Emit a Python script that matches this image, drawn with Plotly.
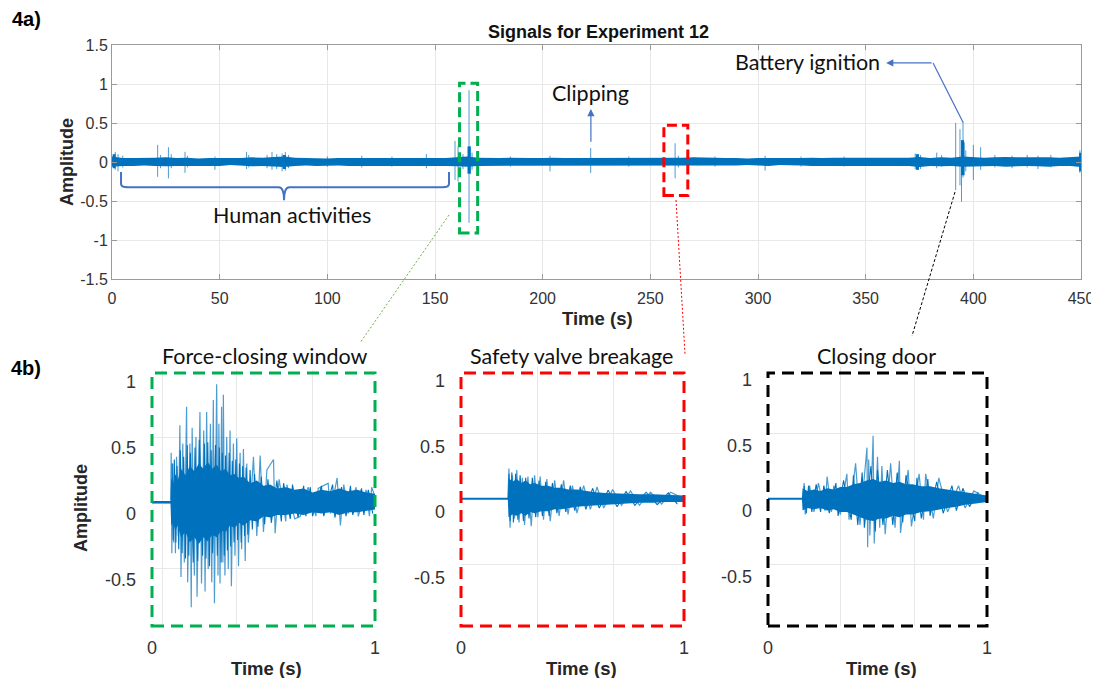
import plotly.graph_objects as go

W, H = 1099, 678
OFF = 8  # page body margin of the viewer; figure is laid out in window pixels
FW, FH = W - OFF, H - OFF

# ---------------- Top panel: Signals for Experiment 12 ----------------
x_ticks = [0, 50, 100, 150, 200, 250, 300, 350, 400, 450]
y_ticks = [-1.5, -1, -0.5, 0, 0.5, 1, 1.5]
y_ticklabels = ["-1.5", "-1", "-0.5", "0", "0.5", "1", "1.5"]

# background noise band (upper / lower envelope) read every 5 s
band_t = [0, 5, 10, 15, 20, 25, 30, 35, 40, 45, 50, 55, 60, 65, 70, 75, 80, 85, 90, 95,
          100, 105, 110, 115, 120, 125, 130, 135, 140, 145, 150, 155, 160, 165, 170, 175,
          180, 185, 190, 195, 200, 205, 210, 215, 220, 225, 230, 235, 240, 245, 250, 255,
          260, 265, 270, 275, 280, 285, 290, 295, 300, 305, 310, 315, 320, 325, 330, 335,
          340, 345, 350, 355, 360, 365, 370, 375, 380, 385, 390, 395, 400, 405, 410, 415,
          420, 425, 430, 435, 440, 445, 450]
band_hi = [0.07, 0.05, 0.05, 0.05, 0.055, 0.06, 0.05, 0.055, 0.045, 0.05, 0.05, 0.045, 0.05,
           0.06, 0.055, 0.065, 0.07, 0.055, 0.05, 0.05, 0.045, 0.05, 0.05, 0.055, 0.05, 0.05,
           0.055, 0.05, 0.05, 0.055, 0.05, 0.05, 0.06, 0.07, 0.055, 0.05, 0.05, 0.055, 0.05,
           0.05, 0.05, 0.055, 0.05, 0.05, 0.055, 0.05, 0.05, 0.055, 0.05, 0.05, 0.055, 0.05,
           0.055, 0.055, 0.06, 0.055, 0.05, 0.05, 0.05, 0.045, 0.05, 0.05, 0.045, 0.045, 0.05,
           0.055, 0.05, 0.055, 0.055, 0.05, 0.05, 0.05, 0.05, 0.05, 0.055, 0.065, 0.05, 0.06,
           0.055, 0.07, 0.06, 0.055, 0.06, 0.065, 0.06, 0.06, 0.065, 0.06, 0.055, 0.06, 0.07]
band_lo = [-0.06, -0.05, -0.05, -0.045, -0.05, -0.055, -0.05, -0.05, -0.045, -0.045, -0.05,
           -0.04, -0.05, -0.055, -0.05, -0.06, -0.065, -0.05, -0.045, -0.05, -0.045, -0.045,
           -0.05, -0.05, -0.045, -0.05, -0.05, -0.045, -0.05, -0.05, -0.045, -0.05, -0.055,
           -0.06, -0.05, -0.05, -0.045, -0.05, -0.045, -0.05, -0.05, -0.045, -0.05, -0.045,
           -0.05, -0.05, -0.045, -0.05, -0.05, -0.045, -0.05, -0.05, -0.05, -0.05, -0.05,
           -0.05, -0.045, -0.05, -0.045, -0.04, -0.045, -0.05, -0.04, -0.04, -0.045, -0.05,
           -0.05, -0.05, -0.05, -0.05, -0.045, -0.05, -0.045, -0.05, -0.05, -0.065, -0.05,
           -0.055, -0.05, -0.06, -0.055, -0.05, -0.05, -0.06, -0.055, -0.05, -0.055, -0.06,
           -0.05, -0.05, -0.065]

# transient spikes (time, max, min)
spike_t = [1.5, 2.8, 5, 21.2, 22.5, 26.2, 27.5, 33.9, 35, 47.8, 62.5, 63.5, 72, 74.3, 76.5,
           79, 80.5, 82, 100, 116, 130, 146, 159.3, 160.7, 163, 165.8, 166.5, 167.2, 185,
           203.4, 222.3, 240, 261.5, 263, 280, 303.3, 320, 340, 373, 374.5, 375.5, 383,
           385.3, 391.8, 393.8, 394.5, 395.2, 395.8, 396.5, 400, 403.4, 410, 418, 425, 430,
           436, 449.5]
spike_hi = [0.13, 0.10, 0.08, 0.22, 0.09, 0.19, 0.10, 0.13, 0.08, 0.07, 0.13, 0.09, 0.09,
            0.13, 0.10, 0.11, 0.13, 0.09, 0.07, 0.08, 0.07, 0.10, 0.27, 0.20, 0.10, 0.92,
            0.20, 0.12, 0.07, 0.08, 0.18, 0.07, 0.24, 0.08, 0.07, 0.08, 0.07, 0.07, 0.11,
            0.10, 0.09, 0.12, 0.09, 0.50, 0.42, 0.28, 0.52, 0.25, 0.15, 0.22, 0.19, 0.09,
            0.08, 0.09, 0.08, 0.09, 0.15]
spike_lo = [-0.10, -0.12, -0.07, -0.19, -0.08, -0.21, -0.08, -0.14, -0.07, -0.10, -0.09,
            -0.07, -0.08, -0.10, -0.09, -0.12, -0.11, -0.08, -0.06, -0.07, -0.06, -0.08,
            -0.23, -0.25, -0.09, -0.78, -0.15, -0.10, -0.06, -0.12, -0.14, -0.06, -0.21,
            -0.07, -0.06, -0.11, -0.06, -0.06, -0.09, -0.10, -0.09, -0.08, -0.06, -0.36,
            -0.30, -0.51, -0.20, -0.17, -0.12, -0.23, -0.10, -0.07, -0.08, -0.07, -0.09,
            -0.07, -0.14]

# dense bursts (time, max, min)
burst_t = [1, 80, 165.8, 374, 395, 449.8]
burst_hi = [0.10, 0.09, 0.20, 0.10, 0.28, 0.12]
burst_lo = [-0.08, -0.09, -0.15, -0.10, -0.17, -0.12]

# ---------------- Bottom panels (1 s windows) ----------------
sub_titles = ["Force-closing window", "Safety valve breakage", "Closing door"]
sub_yticks = [-0.5, 0, 0.5, 1]
sub_yticklabels = ["-0.5", "0", "0.5", "1"]

# Force-closing window
fcw_core_t = [0, 0.083, 0.086, 0.095, 0.105, 0.115, 0.13, 0.15, 0.17, 0.19, 0.21, 0.23, 0.25,
              0.27, 0.29, 0.31, 0.33, 0.35, 0.37, 0.39, 0.41, 0.44, 0.47, 0.50, 0.53, 0.56,
              0.60, 0.64, 0.68, 0.72, 0.76, 0.80, 0.84, 0.88, 0.92, 0.96, 1.0]
fcw_core_hi = [0.016, 0.016, 0.19, 0.15, 0.22, 0.17, 0.26, 0.21, 0.28, 0.24, 0.30, 0.26, 0.31,
               0.26, 0.29, 0.24, 0.26, 0.21, 0.22, 0.19, 0.20, 0.15, 0.17, 0.13, 0.14, 0.11,
               0.12, 0.10, 0.11, 0.08, 0.10, 0.09, 0.11, 0.09, 0.10, 0.08, 0.07]
fcw_core_lo = [-0.004, -0.004, -0.17, -0.15, -0.21, -0.17, -0.26, -0.22, -0.30, -0.26, -0.31,
               -0.26, -0.29, -0.24, -0.26, -0.21, -0.22, -0.17, -0.19, -0.15, -0.17, -0.13,
               -0.14, -0.10, -0.11, -0.09, -0.09, -0.08, -0.09, -0.07, -0.08, -0.07, -0.09,
               -0.07, -0.07, -0.06, -0.05]
fcw_mid_t = [0.09, 0.095, 0.1, 0.107, 0.112, 0.12, 0.127, 0.135, 0.142, 0.15, 0.158, 0.165,
             0.172, 0.185, 0.193, 0.205, 0.212, 0.227, 0.235, 0.242, 0.25, 0.258, 0.265, 0.272,
             0.285, 0.293, 0.302, 0.31, 0.315, 0.324, 0.33, 0.338, 0.346, 0.353, 0.36, 0.368,
             0.376, 0.384, 0.392, 0.4, 0.407, 0.415, 0.422, 0.43, 0.44, 0.45, 0.46, 0.475, 0.49,
             0.505, 0.52, 0.535, 0.56, 0.58, 0.59, 0.62, 0.63, 0.655, 0.68, 0.69, 0.71, 0.72,
             0.76, 0.77, 0.81, 0.82, 0.85, 0.87, 0.89, 0.9, 0.94, 0.95, 0.97, 0.99]
fcw_mid_v = [0.3, -0.28, 0.33, -0.3, 0.28, -0.35, 0.4, -0.38, 0.35, -0.42, 0.44, -0.4, 0.38,
             -0.45, 0.42, -0.44, 0.48, -0.4, 0.45, -0.42, 0.46, -0.48, 0.4, -0.38, 0.44, -0.4,
             0.42, -0.45, 0.38, -0.4, 0.36, -0.36, 0.38, -0.33, 0.32, -0.3, 0.33, -0.28, 0.3,
             -0.3, 0.28, -0.25, 0.27, -0.24, 0.25, -0.2, 0.22, -0.18, 0.2, -0.16, 0.18, -0.15,
             0.17, -0.14, 0.15, -0.12, 0.14, -0.11, 0.13, -0.1, 0.12, -0.1, 0.13, -0.1, 0.14,
             -0.11, 0.12, -0.1, 0.13, -0.09, 0.11, -0.09, 0.1, -0.08]
fcw_wave_t = [0.084, 0.086, 0.089, 0.093, 0.097, 0.101, 0.105, 0.110, 0.118, 0.125, 0.130, 0.138,
              0.145, 0.155, 0.160, 0.170, 0.176, 0.180, 0.190, 0.197, 0.202, 0.215, 0.222, 0.232,
              0.238, 0.245, 0.252, 0.262, 0.268, 0.275, 0.280, 0.290, 0.296, 0.300, 0.305, 0.312,
              0.318, 0.320, 0.327, 0.335, 0.342, 0.350, 0.356, 0.365, 0.372, 0.380, 0.388, 0.395,
              0.402, 0.410, 0.418, 0.425, 0.432, 0.455, 0.470, 0.485, 0.500, 0.515, 0.545, 0.552,
              0.570, 0.600, 0.605, 0.640, 0.665, 0.700, 0.735, 0.745, 0.790, 0.800, 0.830, 0.845,
              0.860, 0.880, 0.915, 0.925, 0.960, 0.975, 0.985, 1.0]
fcw_wave_v = [0.02, 0.38, -0.38, 0.30, -0.30, 0.20, -0.38, 0.35, -0.25, 0.59, -0.56, 0.45,
              -0.45, 0.73, -0.60, 0.45, -0.79, 0.57, -0.55, 0.50, -0.71, 0.69, -0.61, 0.55,
              -0.67, 0.69, -0.50, 0.60, -0.60, 0.78, -0.76, 0.90, -0.55, 0.60, -0.61, 0.73,
              -0.45, 0.82, -0.55, 0.50, -0.50, 0.55, -0.63, 0.45, -0.40, 0.49, -0.48, 0.38,
              -0.35, 0.41, -0.44, 0.30, -0.30, 0.35, -0.25, 0.36, -0.22, 0.25, 0.33, -0.23,
              0.18, -0.14, 0.14, -0.12, -0.10, 0.12, -0.10, 0.11, 0.15, -0.08, 0.19, -0.17,
              0.14, -0.08, 0.12, -0.10, 0.10, -0.10, 0.12, 0.05]

# Safety valve breakage
svb_core_t = [0, 0.21, 0.213, 0.23, 0.25, 0.27, 0.29, 0.31, 0.33, 0.36, 0.39, 0.42, 0.45,
              0.48, 0.52, 0.56, 0.60, 0.65, 0.70, 0.75, 0.80, 0.86, 0.92, 1.0]
svb_core_hi = [0.008, 0.008, 0.16, 0.13, 0.15, 0.12, 0.14, 0.11, 0.12, 0.10, 0.10, 0.085, 0.085,
               0.07, 0.07, 0.06, 0.05, 0.045, 0.04, 0.04, 0.035, 0.035, 0.03, 0.025]
svb_core_lo = [-0.008, -0.008, -0.14, -0.12, -0.13, -0.11, -0.13, -0.10, -0.11, -0.095, -0.095,
               -0.08, -0.08, -0.07, -0.06, -0.055, -0.05, -0.045, -0.04, -0.035, -0.03,
               -0.03, -0.025, -0.025]
svb_mid_t = [0.215, 0.22, 0.228, 0.235, 0.245, 0.255, 0.265, 0.28, 0.29, 0.305, 0.32, 0.335,
             0.35, 0.365, 0.38, 0.395, 0.41, 0.43, 0.45, 0.47, 0.49, 0.51, 0.535, 0.56, 0.59,
             0.62, 0.66, 0.7, 0.74, 0.78, 0.83, 0.88, 0.93, 0.97]
svb_mid_v = [0.19, -0.17, 0.2, -0.18, 0.19, -0.16, 0.18, -0.17, 0.16, -0.15, 0.16, -0.14, 0.14,
             -0.13, 0.13, -0.13, 0.12, -0.11, 0.11, -0.1, 0.1, -0.09, 0.09, -0.08, 0.08, -0.07,
             0.065, -0.06, 0.055, -0.05, 0.05, -0.045, 0.045, -0.04]
svb_wave_t = [0.21, 0.215, 0.22, 0.23, 0.24, 0.25, 0.26, 0.275, 0.285, 0.30, 0.315, 0.33, 0.345,
              0.355, 0.37, 0.385, 0.40, 0.42, 0.44, 0.46, 0.48, 0.50, 0.52, 0.55, 0.58, 0.61,
              0.64, 0.68, 0.72, 0.76, 0.80, 0.85, 0.90, 0.94, 1.0]
svb_wave_v = [0.0, 0.23, -0.22, 0.18, -0.15, 0.22, -0.18, 0.16, -0.20, 0.17, -0.21, 0.18, -0.14,
              0.17, -0.16, 0.15, -0.17, 0.14, -0.13, 0.14, -0.12, 0.10, -0.11, 0.10, -0.08, 0.09,
              -0.07, 0.07, -0.05, 0.06, -0.05, 0.05, -0.04, 0.05, 0.0]

# Closing door
cd_core_t = [0, 0.155, 0.158, 0.18, 0.21, 0.24, 0.27, 0.30, 0.33, 0.36, 0.39, 0.42, 0.45,
             0.48, 0.51, 0.54, 0.57, 0.60, 0.63, 0.66, 0.70, 0.74, 0.78, 0.82, 0.86, 0.90,
             0.95, 1.0]
cd_core_hi = [0.008, 0.008, 0.08, 0.06, 0.07, 0.06, 0.08, 0.07, 0.09, 0.09, 0.11, 0.12, 0.14,
              0.15, 0.13, 0.14, 0.12, 0.13, 0.11, 0.11, 0.095, 0.095, 0.08, 0.07, 0.06, 0.045,
              0.035, 0.025]
cd_core_lo = [-0.008, -0.008, -0.09, -0.07, -0.08, -0.07, -0.09, -0.08, -0.10, -0.10, -0.12,
              -0.14, -0.16, -0.17, -0.15, -0.15, -0.13, -0.14, -0.12, -0.12, -0.10, -0.095,
              -0.08, -0.07, -0.06, -0.045, -0.035, -0.025]
cd_mid_t = [0.165, 0.175, 0.185, 0.2, 0.22, 0.24, 0.255, 0.28, 0.31, 0.32, 0.345, 0.38, 0.39,
            0.41, 0.43, 0.44, 0.47, 0.49, 0.5, 0.525, 0.545, 0.57, 0.59, 0.615, 0.63, 0.67,
            0.68, 0.7, 0.73, 0.74, 0.77, 0.8, 0.84, 0.86, 0.89, 0.92, 0.96]
cd_mid_v = [0.1, -0.11, 0.1, -0.1, 0.11, -0.1, 0.1, -0.11, 0.12, -0.13, 0.14, -0.16, 0.18,
            -0.2, 0.2, -0.22, 0.25, -0.25, 0.22, -0.2, 0.22, -0.2, 0.2, -0.18, 0.18, -0.17,
            0.16, -0.15, 0.15, -0.13, 0.13, -0.11, 0.1, -0.09, 0.08, -0.06, 0.05]
cd_wave_t = [0.16, 0.165, 0.17, 0.19, 0.21, 0.23, 0.26, 0.27, 0.29, 0.30, 0.33, 0.36, 0.37, 0.40,
             0.42, 0.452, 0.455, 0.46, 0.465, 0.48, 0.485, 0.50, 0.51, 0.52, 0.535, 0.56, 0.58,
             0.60, 0.605, 0.64, 0.655, 0.69, 0.71, 0.72, 0.755, 0.78, 0.82, 0.87, 0.90, 0.94, 1.0]
cd_wave_v = [0.0, 0.12, -0.12, 0.10, -0.10, 0.12, -0.09, 0.17, -0.10, 0.10, -0.12, 0.19, -0.16,
             0.27, -0.20, 0.39, -0.37, 0.30, -0.28, 0.48, -0.34, 0.32, -0.22, 0.25, -0.27, 0.27,
             -0.22, 0.29, -0.26, 0.22, -0.21, 0.19, -0.16, 0.19, -0.15, 0.16, -0.10, 0.10, -0.07,
             0.06, 0.0]

# ---------------- styling ----------------
BLUE = "#0072BD"
BLUE_LIGHT = "rgba(0,114,189,0.7)"
ANNO_BLUE = "#4472C4"
AX_FONT = "Liberation Sans, Arial, sans-serif"
TXT_FONT = "Lato, Carlito, Calibri, sans-serif"
TICK_COL = "#333333"
GRID = "#e8e8e8"


def pxx(x):
    return (x - OFF) / FW


def pxy(y):
    return 1 - (y - OFF) / FH


def segs(ts, his, los):
    xs, ys = [], []
    for t, a, b in zip(ts, his, los):
        xs += [t, t, None]
        ys += [a, b, None]
    return xs, ys


fig = go.Figure()

# top panel traces
fig.add_trace(go.Scatter(x=band_t, y=band_hi, mode="lines", line=dict(width=0, color=BLUE),
                         hoverinfo="skip", showlegend=False, xaxis="x", yaxis="y"))
fig.add_trace(go.Scatter(x=band_t, y=band_lo, mode="lines", line=dict(width=0, color=BLUE),
                         fill="tonexty", fillcolor=BLUE, hoverinfo="skip", showlegend=False,
                         xaxis="x", yaxis="y"))
sx, sy = segs(spike_t, spike_hi, spike_lo)
fig.add_trace(go.Scatter(x=sx, y=sy, mode="lines", line=dict(width=1, color=BLUE_LIGHT),
                         hoverinfo="skip", showlegend=False, xaxis="x", yaxis="y"))
bx, by = segs(burst_t, burst_hi, burst_lo)
fig.add_trace(go.Scatter(x=bx, y=by, mode="lines", line=dict(width=3, color=BLUE),
                         hoverinfo="skip", showlegend=False, xaxis="x", yaxis="y"))

# bottom panel traces
panels = [
    (fcw_core_t, fcw_core_hi, fcw_core_lo, fcw_mid_t, fcw_mid_v, fcw_wave_t, fcw_wave_v, "x2", "y2"),
    (svb_core_t, svb_core_hi, svb_core_lo, svb_mid_t, svb_mid_v, svb_wave_t, svb_wave_v, "x3", "y3"),
    (cd_core_t, cd_core_hi, cd_core_lo, cd_mid_t, cd_mid_v, cd_wave_t, cd_wave_v, "x4", "y4"),
]
for ct, chi, clo, mt, mv, wt, wv, xa, ya in panels:
    fig.add_trace(go.Scatter(x=ct, y=chi, mode="lines", line=dict(width=0, color=BLUE),
                             hoverinfo="skip", showlegend=False, xaxis=xa, yaxis=ya))
    fig.add_trace(go.Scatter(x=ct, y=clo, mode="lines", line=dict(width=0, color=BLUE),
                             fill="tonexty", fillcolor=BLUE, hoverinfo="skip",
                             showlegend=False, xaxis=xa, yaxis=ya))
    fig.add_trace(go.Scatter(x=mt, y=mv, mode="lines", line=dict(width=1.1, color=BLUE),
                             hoverinfo="skip", showlegend=False, xaxis=xa, yaxis=ya))
    fig.add_trace(go.Scatter(x=wt, y=wv, mode="lines", line=dict(width=1.2, color=BLUE_LIGHT),
                             hoverinfo="skip", showlegend=False, xaxis=xa, yaxis=ya))

layout = dict(
    width=FW, height=FH, margin=dict(l=0, r=0, t=0, b=0, pad=0, autoexpand=False),
    paper_bgcolor="white", plot_bgcolor="white", showlegend=False,
    xaxis=dict(domain=[pxx(112), pxx(1081)], anchor="y", range=[0, 450], automargin=False,
               tickmode="array", tickvals=x_ticks, ticktext=[str(v) for v in x_ticks],
               showgrid=True, gridcolor=GRID, zeroline=False, showline=True,
               linecolor="#9a9a9a", mirror="ticks", ticks="inside", ticklen=5,
               tickcolor="#9a9a9a", tickfont=dict(family=AX_FONT, size=16, color=TICK_COL),
               ticklabelstandoff=5),
    yaxis=dict(domain=[pxy(279), pxy(45)], anchor="x", range=[-1.5, 1.5], automargin=False,
               tickmode="array", tickvals=y_ticks, ticktext=y_ticklabels,
               showgrid=True, gridcolor=GRID, zeroline=False, showline=True,
               linecolor="#9a9a9a", mirror="ticks", ticks="inside", ticklen=5,
               tickcolor="#9a9a9a", tickfont=dict(family=AX_FONT, size=16, color=TICK_COL)),
)

sub_x_dom = [(152, 375), (461, 684), (768, 987)]
sub_y_dom = [(370, 626), (367, 626), (367, 626)]
sub_y_rng = [(-0.932, 1.008), (-0.97, 1.005), (-0.97, 1.005)]
sub_x_grid = [[0.045, 0.38, 0.72], [0.345, 0.685], [0.33, 0.67]]
sub_lab_shift = [11, 13, 12]
for i in range(3):
    n = i + 2
    layout[f"xaxis{n}"] = dict(
        domain=[pxx(sub_x_dom[i][0]), pxx(sub_x_dom[i][1])], anchor=f"y{n}", range=[0, 1],
        automargin=False,
        tickmode="array", tickvals=[0, 1], ticktext=["0", "1"], showgrid=False,
        zeroline=False, showline=False, ticks="",
        tickfont=dict(family=AX_FONT, size=18, color=TICK_COL), ticklabelstandoff=9,
        minor=dict(tickmode="array", tickvals=sub_x_grid[i], showgrid=True, gridcolor=GRID,
                   ticks=""))
    layout[f"yaxis{n}"] = dict(
        domain=[pxy(sub_y_dom[i][1]), pxy(sub_y_dom[i][0])], anchor=f"x{n}",
        range=list(sub_y_rng[i]), tickmode="array", tickvals=sub_yticks, automargin=False,
        ticktext=sub_yticklabels, showgrid=False, zeroline=False, showline=False, ticks="",
        tickfont=dict(family=AX_FONT, size=18, color=TICK_COL), ticklabelstandoff=15,
        ticklabelshift=sub_lab_shift[i],
        minor=dict(tickmode="array", tickvals=[-0.5, 0, 0.5], showgrid=True, gridcolor=GRID,
                   ticks=""))

fig.update_layout(**layout)

shapes = []
annos = []

# dashed frames around bottom panels
frame_cols = ["#00B050", "#FF0000", "#000000"]
for i in range(3):
    x0, x1 = sub_x_dom[i]
    shapes.append(dict(type="rect", xref="paper", yref="paper", x0=pxx(x0), x1=pxx(x1),
                       y0=pxy(626), y1=pxy(373), line=dict(color=frame_cols[i], width=3,
                                                           dash="12px,7px")))

# dashed boxes in the top panel
green_box = (161.4, 169.8, -0.91, 1.01)
red_box = (256.3, 267.4, -0.43, 0.47)
for (x0, x1, y0, y1), col in [(green_box, "#00B050"), (red_box, "#FF0000")]:
    shapes.append(dict(type="rect", xref="x", yref="y", x0=x0, x1=x1, y0=y0, y1=y1,
                       line=dict(color=col, width=3, dash="10px,5px")))

# connector lines (pixel positions)
shapes.append(dict(type="line", xref="paper", yref="paper", x0=pxx(449), y0=pxy(215),
                   x1=pxx(360), y1=pxy(343), line=dict(color="#70AD47", width=1, dash="2px,2px")))
shapes.append(dict(type="line", xref="paper", yref="paper", x0=pxx(676), y0=pxy(200),
                   x1=pxx(685), y1=pxy(354), line=dict(color="#FF0000", width=1, dash="2px,2px")))
shapes.append(dict(type="line", xref="paper", yref="paper", x0=pxx(955), y0=pxy(192),
                   x1=pxx(912), y1=pxy(336), line=dict(color="#000000", width=1, dash="3px,2px")))

# curly brace "Human activities"
b_l, b_r, b_c = 4.2, 156.5, 79.9
b_top, b_mid, b_tip = -0.128, -0.325, -0.49
brace = (f"M {b_l},{b_top} L {b_l},{b_mid + 0.045} Q {b_l},{b_mid} {b_l + 3},{b_mid} "
         f"L {b_c - 2.5},{b_mid} Q {b_c},{b_mid} {b_c},{b_tip} Q {b_c},{b_mid} {b_c + 2.5},{b_mid} "
         f"L {b_r - 3},{b_mid} Q {b_r},{b_mid} {b_r},{b_mid + 0.045} L {b_r},{b_top}")
shapes.append(dict(type="path", xref="x", yref="y", path=brace,
                   line=dict(color=ANNO_BLUE, width=2)))

# battery ignition leader line
shapes.append(dict(type="line", xref="x", yref="y", x0=395.2, y0=0.51, x1=381.3, y1=1.27,
                   line=dict(color=ANNO_BLUE, width=1.2)))
annos.append(dict(x=359.5, y=1.27, ax=381.3, ay=1.27, xref="x", yref="y", axref="x",
                  ayref="y", text="", showarrow=True, arrowhead=2, arrowsize=1.2,
                  arrowwidth=1.2, arrowcolor=ANNO_BLUE))
# clipping arrow
annos.append(dict(x=222.4, y=0.68, ax=222.4, ay=0.24, xref="x", yref="y", axref="x",
                  ayref="y", text="", showarrow=True, arrowhead=2, arrowsize=1.2,
                  arrowwidth=1.2, arrowcolor=ANNO_BLUE))

anno_font = dict(family=TXT_FONT, size=21.5, color="#111111")
annos.append(dict(x=83.6, y=-0.68, xref="x", yref="y", text="Human activities",
                  showarrow=False, font=anno_font))
annos.append(dict(x=222, y=0.885, xref="x", yref="y", text="Clipping", showarrow=False,
                  font=anno_font))
annos.append(dict(x=322.8, y=1.28, xref="x", yref="y", text="Battery ignition",
                  showarrow=False, font=anno_font))


# titles and axis labels (window pixel positions)
def ptext(x, y, text, size, bold=False, family=AX_FONT, angle=0, color="#111111"):
    t = f"<b>{text}</b>" if bold else text
    annos.append(dict(x=pxx(x), y=pxy(y), xref="paper", yref="paper", text=t,
                      showarrow=False, textangle=angle, xanchor="center", yanchor="middle",
                      font=dict(family=family, size=size, color=color)))


ptext(26, 19, "4a)", 20, bold=True, color="#000000")
ptext(26, 368, "4b)", 20, bold=True, color="#000000")
ptext(598, 32, "Signals for Experiment 12", 18, bold=True)
ptext(597, 318, "Time (s)", 18.5, bold=True, color="#262626")
ptext(67, 162, "Amplitude", 18, bold=True, angle=-90, color="#262626")
ptext(81, 508, "Amplitude", 18, bold=True, angle=-90, color="#262626")
for cx, title, tx in zip([265, 571, 877], sub_titles, [266, 581, 881]):
    ptext(cx, 356, title, 21.5, family=TXT_FONT)
    ptext(tx, 668, "Time (s)", 18.5, bold=True, color="#262626")

fig.update_layout(shapes=shapes, annotations=annos)
fig.write_html("out.html")
